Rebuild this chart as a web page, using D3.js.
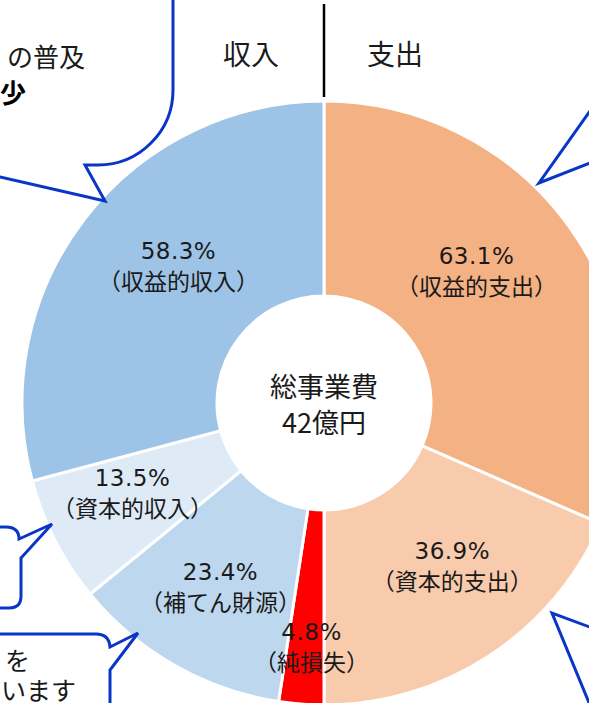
<!DOCTYPE html>
<html lang="ja">
<head>
<meta charset="UTF-8">
<title>総事業費 収入・支出</title>
<script src="https://d3js.org/d3.v7.min.js"></script>
<style>
    html, body { margin: 0; padding: 0; background: #fff; overflow: hidden; }
    svg { display: block; font-family: "Noto Sans CJK JP", "Noto Sans", sans-serif; }
    .lbl { fill: #1a1a1a; font-size: 23px; text-anchor: middle; }
    .pct { font-family: "DejaVu Sans", sans-serif; font-size: 23px; letter-spacing: 0.5px; }
    .callout { fill: none; stroke: #0a36c8; stroke-width: 3; stroke-linejoin: miter; }
</style>
</head>
<body>
<div id="chart"></div>
<script>
// 支出 (clockwise from top), 収入 (clockwise from bottom) - each side sums to 100%
const expenseNames = ["収益的支出", "資本的支出"];
const expenseShares = [63.1, 36.9];
const incomeNames = ["純損失", "補てん財源", "資本的収入", "収益的収入"];
const incomeShares = [4.8, 23.4, 13.5, 58.3];
const sideTitles = ["収入", "支出"];
const centerLines = ["総事業費", "42億円"];

const expenseColors = ["#f4b183", "#f8cbad"];
const incomeColors = ["#ff0000", "#bdd7ee", "#deebf7", "#9dc3e6"];

const width = 589, height = 703;
const cx = 324, cy = 403;
const outerR = 302, innerR = 107;

// hand placement of the data labels, relative to the ring centre line
const labelNudge = [[-19, -20], [16, -9], [3, 40], [-2, 6], [-9, -3], [17, -12]];

const slices = expenseShares.map((v, i) => ({ name: expenseNames[i], v, color: expenseColors[i] }))
    .concat(incomeShares.map((v, i) => ({ name: incomeNames[i], v, color: incomeColors[i] })));

const svg = d3.select("#chart").append("svg")
    .attr("width", width)
    .attr("height", height);

const pie = d3.pie().sort(null).value(d => d.v);
const arc = d3.arc().innerRadius(innerR).outerRadius(outerR);
const labelArc = d3.arc().innerRadius(205).outerRadius(205);

const g = svg.append("g").attr("transform", `translate(${cx},${cy})`);

g.selectAll("path.slice")
    .data(pie(slices))
    .enter()
    .append("path")
    .attr("class", "slice")
    .attr("d", arc)
    .attr("fill", d => d.data.color)
    .attr("stroke", "#fff")
    .attr("stroke-width", 3);

const fmt = d3.format(".1f");
const labels = g.selectAll("g.lab")
    .data(pie(slices))
    .enter()
    .append("g")
    .attr("class", "lab")
    .attr("transform", (d, i) => {
        const c = labelArc.centroid(d);
        return `translate(${c[0] + labelNudge[i][0]},${c[1] + labelNudge[i][1]})`;
    });
labels.append("text").attr("class", "lbl pct").attr("y", -7).text(d => fmt(d.data.v) + "%");
labels.append("text").attr("class", "lbl").attr("y", 24).text(d => "（" + d.data.name + "）");

// centre text
g.selectAll("text.center")
    .data(centerLines)
    .enter()
    .append("text")
    .attr("class", "center")
    .attr("text-anchor", "middle")
    .attr("y", (d, i) => -6 + i * 36)
    .attr("font-size", 27)
    .attr("fill", "#1a1a1a")
    .text(d => d);

// divider + side titles
svg.append("line")
    .attr("x1", cx).attr("x2", cx)
    .attr("y1", 4).attr("y2", 97)
    .attr("stroke", "#000").attr("stroke-width", 2.5);

svg.selectAll("text.side")
    .data(sideTitles)
    .enter()
    .append("text")
    .attr("class", "side")
    .attr("text-anchor", "middle")
    .attr("x", (d, i) => i === 0 ? 251 : 395)
    .attr("y", 65)
    .attr("font-size", 28)
    .attr("fill", "#1a1a1a")
    .text(d => d);

// speech bubbles (cut by the frame)
const callouts = [
    "M173,-5 L173,90 A75,75 0 0 1 98,165 L85,165 L105,201 L0,177 L-10,175",
    "M595,104 L539,183 L595,161",
    "M-5,527 L6,527 Q19,527 19,539 L52,524 L21,558 L21,596 Q21,608 9,608 L-5,608",
    "M-5,634 L96,634 Q109,634 110,647 L138,633 L110,670 L110,710",
    "M595,629 L552,613 L592,710"
];
svg.selectAll("path.callout")
    .data(callouts)
    .enter()
    .append("path")
    .attr("class", "callout")
    .attr("d", d => d);

svg.append("text").attr("x", 85).attr("y", 67).attr("text-anchor", "end")
    .attr("font-size", 26).attr("fill", "#1a1a1a").text("の普及");
svg.append("text").attr("x", 26).attr("y", 103).attr("text-anchor", "end")
    .attr("font-size", 26).attr("font-weight", "bold").attr("fill", "#000").text("少");
svg.append("text").attr("x", 30).attr("y", 670).attr("text-anchor", "end")
    .attr("font-size", 25).attr("fill", "#1a1a1a").text("を");
svg.append("text").attr("x", 76).attr("y", 700).attr("text-anchor", "end")
    .attr("font-size", 25).attr("fill", "#1a1a1a").text("います");
</script>
</body>
</html>
